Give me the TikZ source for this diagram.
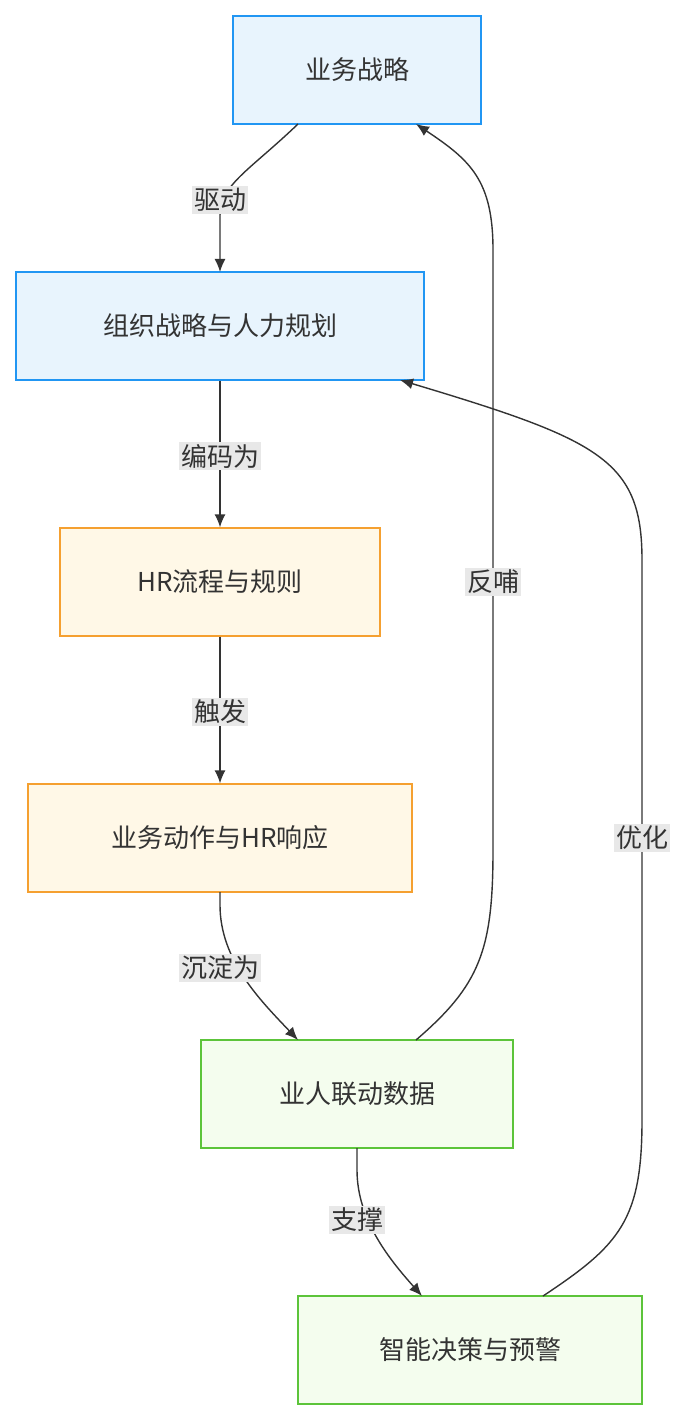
\documentclass[tikz,border=0pt]{standalone}
\usepackage{fontspec}
\setmainfont{Noto Sans CJK SC}
\usetikzlibrary{arrows.meta}
\definecolor{bfill}{HTML}{E8F4FD}\definecolor{bline}{HTML}{2196F3}
\definecolor{ofill}{HTML}{FFF8E7}\definecolor{oline}{HTML}{F5A030}
\definecolor{gfill}{HTML}{F4FDEE}\definecolor{gline}{HTML}{5CC43A}
\definecolor{lab}{HTML}{E8E8E8}\definecolor{txt}{HTML}{333333}
\begin{document}
\begin{tikzpicture}[x=1pt,y=-1pt,
 box/.style={draw,line width=1.3pt,minimum height=108pt,inner sep=0pt,font=\fontsize{26}{30}\selectfont,text=txt},
 blue/.style={box,fill=bfill,draw=bline},
 org/.style={box,fill=ofill,draw=oline},
 grn/.style={box,fill=gfill,draw=gline},
 lbl/.style={fill=lab,inner sep=2pt,font=\fontsize{26}{30}\selectfont,text=txt},
 arr/.style={draw=txt,line width=1.4pt,-{Latex[length=13pt,width=11pt]}}]
\useasboundingbox (0,0) rectangle (691,1420);
\node[blue,minimum width=248pt] (a) at (357,70) {业务战略};
\node[blue,minimum width=408pt] (b) at (220,326) {组织战略与人力规划};
\node[org,minimum width=320pt] (c) at (220,582) {HR流程与规则};
\node[org,minimum width=384pt] (d) at (220,838) {业务动作与HR响应};
\node[grn,minimum width=312pt] (e) at (357,1094) {业人联动数据};
\node[grn,minimum width=344pt] (f) at (470,1350) {智能决策与预警};
\coordinate (a1) at (298,124); \coordinate (b1) at (220,272);
\draw[arr] (a1) .. controls (250,170) and (220,185) .. (220,215) -- (b1);
\node[lbl] at (220,200) {驱动};
\draw[arr] (b.south) -- (c.north); \node[lbl] at (220,456) {编码为};
\draw[arr] (c.south) -- (d.north); \node[lbl] at (220,712) {触发};
\coordinate (d1) at (220,892); \coordinate (e1) at (298,1040);
\draw[arr] (d1) -- (220,905) .. controls (220,960) and (260,1000) .. (e1);
\node[lbl] at (220,968) {沉淀为};
\coordinate (e2) at (357,1148); \coordinate (f1) at (422,1296);
\draw[arr] (e2) -- (357,1170) .. controls (357,1220) and (390,1260) .. (f1);
\node[lbl] at (357,1220) {支撑};
\coordinate (e3) at (416,1040); \coordinate (a2) at (416,124);
\draw[arr] (e3) .. controls (480,985) and (493,950) .. (493,850) -- (493,250) .. controls (493,180) and (470,160) .. (a2);
\node[lbl] at (493,582) {反哺};
\coordinate (f2) at (543,1296); \coordinate (b2) at (400,380);
\draw[arr] (f2) .. controls (620,1245) and (642,1220) .. (642,1120) -- (642,560) .. controls (642,460) and (600,440) .. (b2);
\node[lbl] at (642,838) {优化};
\end{tikzpicture}
\end{document}
